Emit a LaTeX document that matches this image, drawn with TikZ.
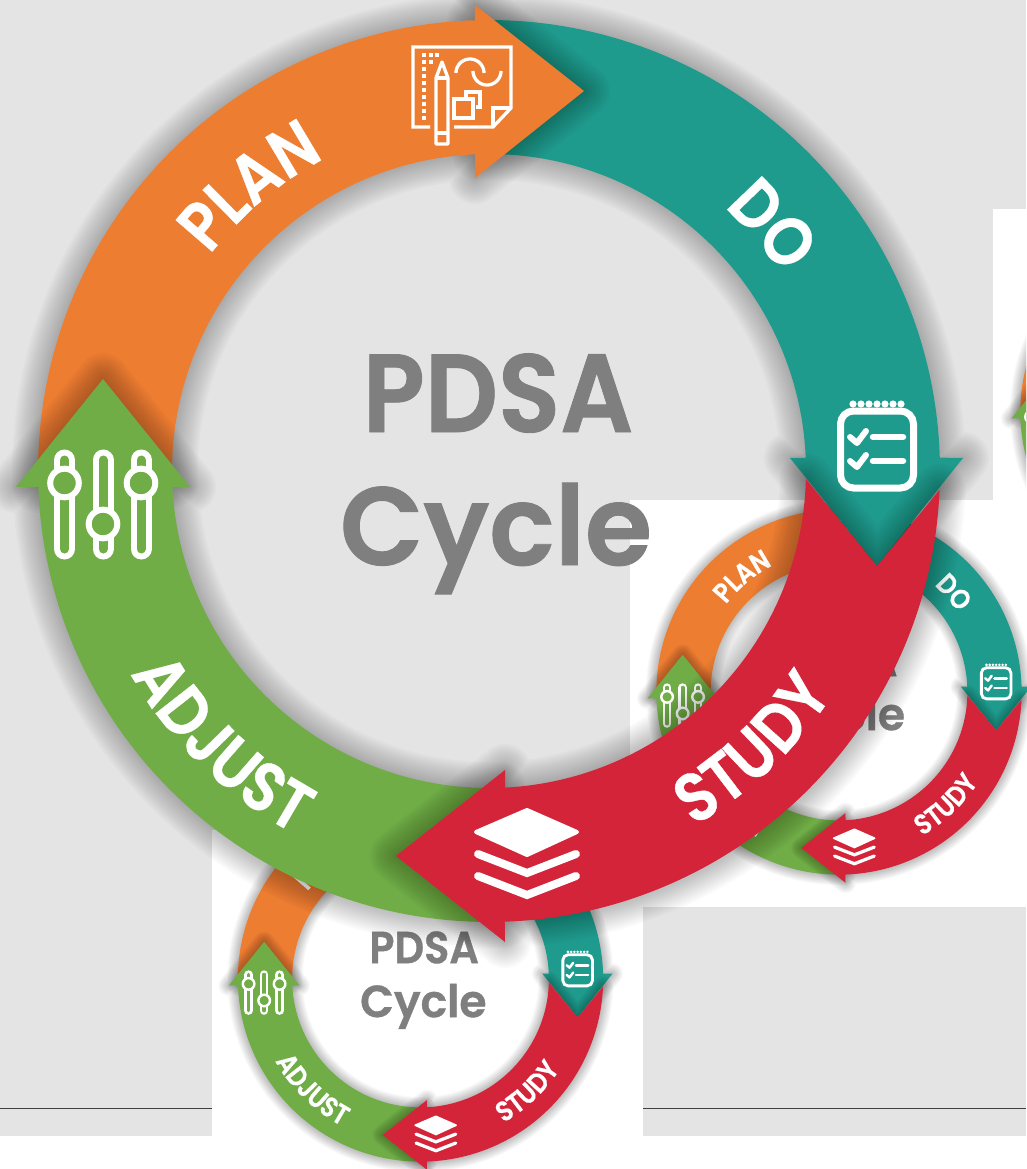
\documentclass[tikz,border=0pt]{standalone}
\usepackage{fontspec}
\usepackage{graphicx}
\usetikzlibrary{decorations.text}
\newfontfamily\pdsaf{Poppins SemiBold}[FakeBold=0.8]
\newfontfamily\pdsag{Poppins SemiBold}[FakeStretch=0.87,FakeBold=0.5]
\definecolor{bggray}{HTML}{E4E4E4}
\definecolor{porange}{HTML}{ED7D31}
\definecolor{pteal}{HTML}{1F9B8D}
\definecolor{pred}{HTML}{D42439}
\definecolor{pgreen}{HTML}{70AD47}
\definecolor{ptext}{HTML}{7F7F7F}
% arrow outlines, in the pixel coordinates of the large cycle
\def\tealpath{plot[domain=268:358.3,samples=80] ({489+451*cos(\x)},{471+451*sin(\x)}) -- (963,458) -- (877,566) -- (790,458) -- plot[domain=357.6:268,samples=80] ({489+317*cos(\x)},{471+317*sin(\x)}) -- cycle}
\def\orangepath{plot[domain=178:268.2,samples=80] ({489+451*cos(\x)},{471+451*sin(\x)}) -- (475,5) -- (584,91) -- (475,178) -- plot[domain=267.5:178,samples=80] ({489+317*cos(\x)},{471+317*sin(\x)}) -- cycle}
\def\greenpath{plot[domain=88:178,samples=80] ({489+451*cos(\x)},{471+451*sin(\x)}) -- (16,487) -- (103,379) -- (190,487) -- plot[domain=177.1:88,samples=80] ({489+317*cos(\x)},{471+317*sin(\x)}) -- cycle}
\def\redpath{plot[domain=2.4:88,samples=80] ({489+451*cos(\x)},{471+451*sin(\x)}) -- (505,942) -- (396,856) -- (505,770) -- plot[domain=87.1:1.45,samples=80] ({489+317*cos(\x)},{471+317*sin(\x)}) -- (877,566) -- cycle}
\newcommand\softshadow[1]{\foreach \w in {52,48,...,4}{\draw[black,opacity=.018,line width=\sc*\w*1pt,line join=round] #1;}}
\tikzset{
  iconline/.style={draw=white,line width=\sc*3.3pt,line cap=butt,line join=miter},
  roundline/.style={draw=white,line cap=round,line join=round}
}
\newcommand\ringshapes[3]{%
 \begin{scope}[shift={(#1,#2)},scale=#3,shift={(-489,-471)}]
  \def\sc{#3}%
  \softshadow{\tealpath}\fill[pteal] \tealpath;
  \softshadow{\orangepath}\fill[porange] \orangepath;
  \softshadow{\greenpath}\fill[pgreen] \greenpath;
  \softshadow{\redpath}\fill[pred] \redpath;
  % plan icon
  \draw[iconline] (430,127) -- (413,127) -- (413,47) -- (511,47) -- (511,108) -- (493,127) -- (454,127);
  \draw[iconline] (511,108) -- (493,108) -- (493,127);
  \draw[iconline,line join=round] (436,78) -- (442,62) -- (448,78) -- (448,144) -- (436,144) -- cycle;
  \draw[iconline] (436,78) -- (448,78) (436,133) -- (448,133);
  \draw[iconline] plot[domain=180:360,samples=24] ({470+14*cos(\x)},{73+14*sin(\x)});
  \draw[iconline] plot[domain=0:180,samples=24] ({487+14*cos(\x)},{71+14*sin(\x)});
  \draw[iconline] (454,99) rectangle (473,118);
  \draw[iconline] (466,97) -- (466,92) -- (480,92) -- (480,107) -- (476,107);
  \foreach \yy in {55,62,...,118}{\fill[white] (422,\yy-2) rectangle (426,\yy+2);}
  \foreach \xx in {431,437}{\fill[white] (\xx-2,53) rectangle (\xx+2,57);}
  \fill[white] (429,60) rectangle (433,64);
  % checklist icon
  \draw[draw=white,line width=\sc*7pt,rounded corners=\sc*13pt] (840.5,411) rectangle (913.5,488);
  \foreach \xx in {853,861,...,901}{\fill[white] (\xx,404) circle (3.6);}
  \foreach \yy in {0,24}{
    \draw[roundline,line width=\sc*6pt] (850,437+\yy) -- (857,443+\yy) -- (866,431+\yy);
    \draw[roundline,line width=\sc*6.5pt] (873,437+\yy) -- (903,437+\yy);
  }
  % layers icon
  \fill[white,draw=white,line width=\sc*4pt,line join=round] (476,832) -- (527,810) -- (577,832) -- (527,855) -- cycle;
  \foreach \yy in {0,22}{
    \draw[roundline,line width=\sc*8pt,line join=miter] (478,854+\yy) -- (527,873+\yy) -- (576,854+\yy);
  }
  % sliders icon
  \foreach \xx/\kk in {64.5/483,103/524,141/483}{
    \draw[white,line width=\sc*21pt,line cap=round] (\xx,460) -- (\xx,549);
    \draw[pgreen,line width=\sc*9pt,line cap=round] (\xx,460) -- (\xx,549);
    \fill[pgreen,draw=white,line width=\sc*6pt] (\xx,\kk) circle (14.3);
  }
 \end{scope}}
\newcommand\ringtexts[4]{%
  \pgfmathsetmacro\fsA{#3*111}%
  \pgfmathsetmacro\fsB{#3*69}%
  \def\ringfont{\pdsag\fontsize{\fsB pt}{\fsB pt}\selectfont}%
  \node[anchor=base,text=ptext,font=\pdsaf\fontsize{\fsA pt}{\fsA pt}\selectfont,inner sep=0pt] (#4pdsa) at ({#1+#3*(498-489)},{#2+#3*(432-471)}) {\scalebox{.92}[1]{PDSA}};
  \node[anchor=base,text=ptext,font=\pdsaf\fontsize{\fsA pt}{\fsA pt}\selectfont,inner sep=0pt] (#4cycle) at ({#1+#3*(496-489)},{#2+#3*(565-471)}) {\scalebox{.98}[1]{Cycle}};
  \path[decorate,decoration={text along path,text align=center,text color=white,text={|\ringfont|PLAN}}] plot[domain=200:260,samples=40] ({#1+#3*353*cos(\x)},{#2+#3*353*sin(\x)});
  \path[decorate,decoration={text along path,text align=center,text color=white,text={|\ringfont|DO}}] plot[domain=289:349,samples=40] ({#1+#3*353*cos(\x)},{#2+#3*353*sin(\x)});
  \path[decorate,decoration={text along path,text align=center,text color=white,text={|\ringfont|STUDY}}] plot[domain=76.5:16.5,samples=40] ({#1+#3*410*cos(\x)},{#2+#3*410*sin(\x)});
  \path[decorate,decoration={text along path,text align=center,text color=white,text={|\ringfont|ADJUST}}] plot[domain=164.3:104.3,samples=40] ({#1+#3*412*cos(\x)},{#2+#3*412*sin(\x)});
}
\begin{document}
\begin{tikzpicture}[x=1pt,y=-1pt]
\useasboundingbox (0,0) rectangle (1026,1169);
\fill[white] (0,0) rectangle (1026,1169);
\fill[bggray] (0,0) rectangle (1026,1136);
\coordinate (ruleA) at (0,1108);
\coordinate (ruleB) at (212,1108);
\coordinate (ruleC) at (643,1108);
\coordinate (ruleD) at (1026,1108);
\draw[black!75,line width=1pt] (ruleA) -- (ruleB) (ruleC) -- (ruleD);
% white panels
\fill[white] (993,209) rectangle (1026,500);
\fill[white] (630,500) rectangle (1026,907);
\fill[white] (212,830) rectangle (643,1136);
% cut-off cycle at the right edge
\begin{scope}
  \clip (993,209) rectangle (1026,500);
  \ringshapes{1203}{412}{0.405}
\end{scope}
% small cycles
\ringshapes{839}{692}{0.405}
\ringtexts{839}{692}{0.405}{r}
\ringshapes{420.5}{979}{0.405}
\ringtexts{420.5}{979}{0.405}{b}
% large cycle
\ringshapes{489}{471}{1}
\ringtexts{489}{471}{1}{m}
\end{tikzpicture}
\end{document}
